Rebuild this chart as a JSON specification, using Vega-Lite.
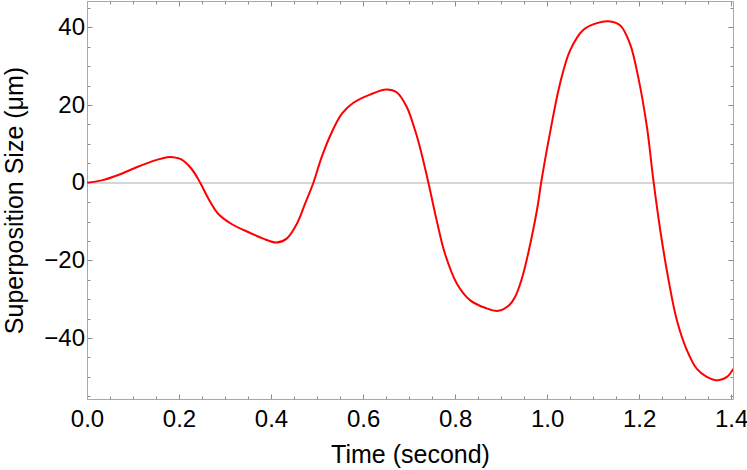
{
  "$schema": "https://vega.github.io/schema/vega-lite/v6.json",
  "width": 646,
  "height": 398,
  "autosize": {"type": "none"},
  "padding": {"left": 87, "top": 1, "right": 14, "bottom": 71},
  "background": "white",
  "config": {
    "view": {"stroke": null},
    "axis": {
      "labelFont": "Liberation Sans",
      "titleFont": "Liberation Sans",
      "labelColor": "black",
      "titleColor": "black",
      "labelFontSize": 24,
      "titleFontSize": 25,
      "titleFontWeight": "normal",
      "domainColor": "#a8a8a8",
      "tickColor": "#8a8a8a",
      "grid": false,
      "domainWidth": 1,
      "tickWidth": 1,
      "labelOverlap": false,
      "labelBound": false,
      "labelFlush": false
    }
  },
  "data": {
    "values": [
      {"t": 0, "v": 0},
      {"t": 0.032, "v": 0.6},
      {"t": 0.068, "v": 2.0},
      {"t": 0.104, "v": 3.8},
      {"t": 0.141, "v": 5.5},
      {"t": 0.165, "v": 6.3},
      {"t": 0.18, "v": 6.6},
      {"t": 0.195, "v": 6.4},
      {"t": 0.205, "v": 6.0},
      {"t": 0.227, "v": 3.6},
      {"t": 0.246, "v": 0},
      {"t": 0.264, "v": -4.1},
      {"t": 0.285, "v": -8.0},
      {"t": 0.315, "v": -10.7},
      {"t": 0.343, "v": -12.3},
      {"t": 0.365, "v": -13.5},
      {"t": 0.383, "v": -14.4},
      {"t": 0.412, "v": -15.4},
      {"t": 0.434, "v": -14.4},
      {"t": 0.456, "v": -10.6},
      {"t": 0.474, "v": -5.4},
      {"t": 0.492, "v": 0},
      {"t": 0.51, "v": 6.6},
      {"t": 0.532, "v": 13.0},
      {"t": 0.554, "v": 17.8},
      {"t": 0.579, "v": 20.6},
      {"t": 0.615, "v": 22.7},
      {"t": 0.651, "v": 24.0},
      {"t": 0.673, "v": 23.3},
      {"t": 0.695, "v": 19.5},
      {"t": 0.713, "v": 13.5},
      {"t": 0.725, "v": 8.5},
      {"t": 0.742, "v": 0},
      {"t": 0.76, "v": -9.7},
      {"t": 0.778, "v": -18.3},
      {"t": 0.804, "v": -26.0},
      {"t": 0.833, "v": -30.3},
      {"t": 0.865, "v": -32.2},
      {"t": 0.894, "v": -33.0},
      {"t": 0.918, "v": -31.5},
      {"t": 0.93, "v": -29.5},
      {"t": 0.94, "v": -26.6},
      {"t": 0.95, "v": -22.6},
      {"t": 0.96, "v": -17.6},
      {"t": 0.97, "v": -12.0},
      {"t": 0.98, "v": -5.6},
      {"t": 0.987, "v": 0},
      {"t": 1.007, "v": 13.3},
      {"t": 1.028, "v": 25.5},
      {"t": 1.05, "v": 34.1},
      {"t": 1.079, "v": 39.4},
      {"t": 1.108, "v": 41.1},
      {"t": 1.133, "v": 41.6},
      {"t": 1.159, "v": 40.5},
      {"t": 1.18, "v": 35.8},
      {"t": 1.198, "v": 27.2},
      {"t": 1.217, "v": 14.3},
      {"t": 1.231, "v": 0.6},
      {"t": 1.246, "v": -12.3},
      {"t": 1.264, "v": -25.1},
      {"t": 1.282, "v": -35.4},
      {"t": 1.304, "v": -43.2},
      {"t": 1.325, "v": -47.9},
      {"t": 1.347, "v": -50.0},
      {"t": 1.372, "v": -50.9},
      {"t": 1.391, "v": -50.0},
      {"t": 1.405, "v": -47.9}
    ]
  },
  "layer": [
    {
      "mark": {"type": "rule", "color": "#d4d4d4", "strokeWidth": 1},
      "encoding": {
        "y": {"datum": 0, "type": "quantitative", "scale": {"domain": [-55.7, 46.8], "nice": false}, "axis": null}
      }
    },
    {
      "mark": {"type": "line", "color": "#ff0000", "strokeWidth": 2, "interpolate": "catmull-rom", "clip": true},
      "encoding": {
        "x": {
          "field": "t", "type": "quantitative",
          "scale": {"domain": [0, 1.404], "nice": false, "zero": false},
          "axis": {
            "orient": "bottom",
            "title": "Time (second)",
            "values": [0,0.05,0.1,0.15,0.2,0.25,0.3,0.35,0.4,0.45,0.5,0.55,0.6,0.65,0.7,0.75,0.8,0.85,0.9,0.95,1,1.05,1.1,1.15,1.2,1.25,1.3,1.35,1.4],
            "labelExpr": "abs(datum.value*5 - round(datum.value*5)) < 0.001 ? format(datum.value, '.1f') : ''",
            "tickSize": {"condition": {"test": "abs(datum.value*5 - round(datum.value*5)) < 0.001", "value": -5}, "value": -3},
            "labelPadding": 13,
            "titleY": 63,
            "titleBaseline": "alphabetic"
          }
        },
        "y": {
          "field": "v", "type": "quantitative",
          "scale": {"domain": [-55.7, 46.8], "nice": false, "zero": false},
          "axis": {
            "orient": "left",
            "title": "Superposition Size (μm)",
            "values": [-55,-50,-45,-40,-35,-30,-25,-20,-15,-10,-5,0,5,10,15,20,25,30,35,40,45],
            "labelExpr": "datum.value % 20 == 0 ? format(datum.value, 'd') : ''",
            "tickSize": {"condition": {"test": "datum.value % 20 == 0", "value": -5}, "value": -3},
            "labelPadding": 7.5,
            "titleAngle": -90,
            "titleX": -65,
            "titleY": 199,
            "titleAlign": "center",
            "titleBaseline": "alphabetic"
          }
        }
      }
    },
    {
      "mark": {"type": "line", "opacity": 0},
      "encoding": {
        "x": {
          "field": "t", "type": "quantitative",
          "scale": {"domain": [0, 1.404], "nice": false, "zero": false},
          "axis": {
            "orient": "top",
            "title": null,
            "labels": false,
            "values": [0,0.05,0.1,0.15,0.2,0.25,0.3,0.35,0.4,0.45,0.5,0.55,0.6,0.65,0.7,0.75,0.8,0.85,0.9,0.95,1,1.05,1.1,1.15,1.2,1.25,1.3,1.35,1.4],
            "tickSize": {"condition": {"test": "abs(datum.value*5 - round(datum.value*5)) < 0.001", "value": -5}, "value": -3}
          }
        },
        "y": {
          "field": "v", "type": "quantitative",
          "scale": {"domain": [-55.7, 46.8], "nice": false, "zero": false},
          "axis": {
            "orient": "right",
            "title": null,
            "labels": false,
            "values": [-55,-50,-45,-40,-35,-30,-25,-20,-15,-10,-5,0,5,10,15,20,25,30,35,40,45],
            "tickSize": {"condition": {"test": "datum.value % 20 == 0", "value": -5}, "value": -3}
          }
        }
      }
    }
  ],
  "resolve": {
    "scale": {"x": "independent", "y": "independent"},
    "axis": {"x": "independent", "y": "independent"}
  }
}
